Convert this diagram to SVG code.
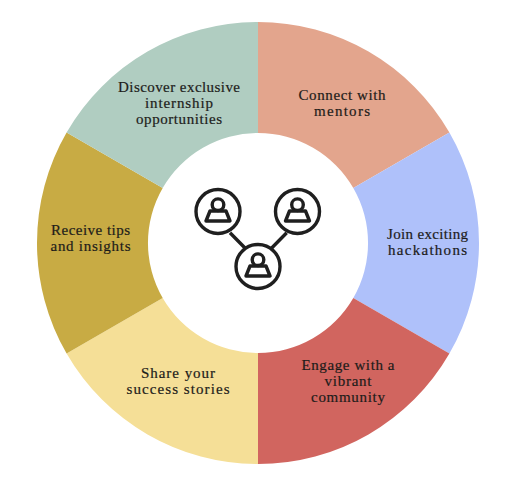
<svg xmlns="http://www.w3.org/2000/svg" width="518" height="482" viewBox="0 0 518 482">
<style>
text{font-family:"Liberation Serif","DejaVu Serif",serif;font-size:15px;fill:#1d1c1a;stroke:#1d1c1a;stroke-width:.2;text-anchor:middle}
.ic{fill:none;stroke:#1f1f1f;stroke-width:3.400;stroke-linejoin:round}
</style>
<defs>
<g id="person" class="ic"><circle r="22"/><circle cy="-6.800" r="5.800"/><path d="M-6.500-.5H6.500Q7.500-.5 8-.5L12 9.500H-12L-8-.5Q-7.500-.5-6.500-.5Z"/></g>
</defs>
<rect width="518" height="482" fill="#fff"/>
<g id="seg-mentors"><path d="M258 22A221 221 0 0 1 449.400 132.500L353.300 188A110 110 0 0 0 258 133Z" fill="#e3a58d"/><text x="342" y="100" textLength="87">Connect with</text><text x="342" y="116" textLength="56">mentors</text></g>
<g id="seg-hackathons"><path d="M449.400 132.500A221 221 0 0 1 449.400 353.500L353.300 298A110 110 0 0 0 353.300 188Z" fill="#afc1fa"/><text x="427.500" y="239" textLength="81">Join exciting</text><text x="427.500" y="255" textLength="79">hackathons</text></g>
<g id="seg-community"><path d="M449.400 353.500A221 221 0 0 1 258 464V353A110 110 0 0 0 353.300 298Z" fill="#d1655f"/><text x="348" y="370" textLength="93">Engage with a</text><text x="348" y="386" textLength="47">vibrant</text><text x="348" y="402" textLength="74">community</text></g>
<g id="seg-stories"><path d="M258 464A221 221 0 0 1 66.600 353.500L162.700 298A110 110 0 0 0 258 353Z" fill="#f5df97"/><text x="178" y="378" textLength="74">Share your</text><text x="178" y="394" textLength="103">success stories</text></g>
<g id="seg-tips"><path d="M66.600 353.500A221 221 0 0 1 66.600 132.500L162.700 188A110 110 0 0 0 162.700 298Z" fill="#c8ab44"/><text x="90.500" y="235" textLength="79">Receive tips</text><text x="90.500" y="251" textLength="80">and insights</text></g>
<g id="seg-internship"><path d="M66.600 132.500A221 221 0 0 1 258 22V133A110 110 0 0 0 162.700 188Z" fill="#b0cdc1"/><text x="179" y="92" textLength="122">Discover exclusive</text><text x="179" y="108" textLength="68">internship</text><text x="179" y="124" textLength="86">opportunities</text></g>
<g id="connectors"><path class="ic" d="M230 232.700 245 248M286.700 232.700 271.700 248"/></g>
<g id="hub-left"><use href="#person" x="218" y="211.500"/></g>
<g id="hub-right"><use href="#person" x="297.500" y="211.500"/></g>
<g id="hub-bottom"><use href="#person" x="258" y="266.500"/></g>
</svg>
